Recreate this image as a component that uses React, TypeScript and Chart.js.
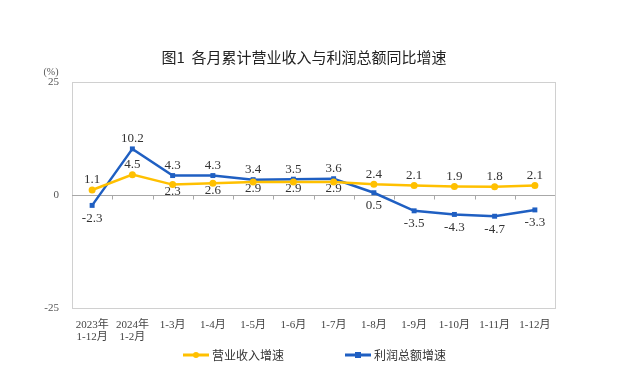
import React, { useEffect, useRef } from "react";
import { Chart, registerables } from "chart.js";

Chart.register(...registerables);

const categories: (string | string[])[] = [
  ["2023年", "1-12月"],
  ["2024年", "1-2月"],
  "1-3月",
  "1-4月",
  "1-5月",
  "1-6月",
  "1-7月",
  "1-8月",
  "1-9月",
  "1-10月",
  "1-11月",
  "1-12月",
];
const revenueGrowth = [1.1, 4.5, 2.3, 2.6, 2.9, 2.9, 2.9, 2.4, 2.1, 1.9, 1.8, 2.1];
const profitGrowth = [-2.3, 10.2, 4.3, 4.3, 3.4, 3.5, 3.6, 0.5, -3.5, -4.3, -4.7, -3.3];
const revenueLabelSide = ["up", "up", "down", "down", "down", "down", "down", "up", "up", "up", "up", "up"];
const profitLabelSide = ["down", "up", "up", "up", "up", "up", "up", "down", "down", "down", "down", "down"];
const yMin = -25;
const yMax = 25;
const yStep = 25;

const titleText = "图1  各月累计营业收入与利润总额同比增速";
const unitText = "(%)";
const seriesNames = ["营业收入增速", "利润总额增速"];

const YELLOW = "#FFC000";
const BLUE = "#1F5FC2";
const SERIF = "'Liberation Serif', 'DejaVu Serif', 'Noto Sans CJK SC', serif";
const CJK = "'Noto Sans CJK SC', 'Noto Sans', sans-serif";

const decorPlugin = {
  id: "decor",
  beforeDatasetsDraw(chart: any) {
    const { ctx, chartArea, scales } = chart;
    const { left, right, top, bottom } = chartArea;
    ctx.save();
    ctx.strokeStyle = "#D0D0D0";
    ctx.lineWidth = 1;
    ctx.strokeRect(Math.round(left) + 0.5, Math.round(top) + 0.5, Math.round(right - left), Math.round(bottom - top));
    const y0 = Math.round(scales.y.getPixelForValue(0)) + 0.5;
    ctx.strokeStyle = "#A8A8A8";
    ctx.beginPath();
    ctx.moveTo(left, y0);
    ctx.lineTo(right, y0);
    ctx.stroke();
    const n = categories.length;
    for (let i = 1; i < n; i++) {
      const x = Math.round((scales.x.getPixelForValue(i - 1) + scales.x.getPixelForValue(i)) / 2) + 0.5;
      ctx.beginPath();
      ctx.moveTo(x, y0);
      ctx.lineTo(x, y0 + 4);
      ctx.stroke();
    }
    ctx.restore();
  },
  afterDatasetsDraw(chart: any) {
    const { ctx } = chart;
    ctx.save();
    ctx.font = `13px ${SERIF}`;
    ctx.fillStyle = "#333333";
    ctx.textAlign = "center";
    ctx.textBaseline = "middle";
    const sides = [revenueLabelSide, profitLabelSide];
    chart.data.datasets.forEach((ds: any, di: number) => {
      const meta = chart.getDatasetMeta(di);
      meta.data.forEach((pt: any, i: number) => {
        const side = sides[di][i];
        let dy = side === "up" ? -10 : di === 0 ? 7 : 13;
        ctx.fillText(String(ds.data[i].toFixed(1)), pt.x, pt.y + dy);
      });
    });
    ctx.restore();
  },
  afterDraw(chart: any) {
    const { ctx, chartArea } = chart;
    ctx.save();
    // title
    ctx.fillStyle = "#222222";
    ctx.font = `400 15px ${CJK}`;
    ctx.textAlign = "center";
    ctx.textBaseline = "middle";
    ctx.fillText(titleText, 304, 57);
    // unit
    ctx.font = `10px ${SERIF}`;
    ctx.fillStyle = "#555555";
    ctx.fillText(unitText, chartArea.left - 21, chartArea.top - 10);
    // legend
    const ly = 355;
    const items = [
      { name: seriesNames[0], color: YELLOW, x: 183, marker: "circle" },
      { name: seriesNames[1], color: BLUE, x: 345, marker: "rect" },
    ];
    items.forEach((it) => {
      ctx.strokeStyle = it.color;
      ctx.fillStyle = it.color;
      ctx.lineWidth = 3;
      ctx.beginPath();
      ctx.moveTo(it.x, ly);
      ctx.lineTo(it.x + 26, ly);
      ctx.stroke();
      const cx = it.x + 13;
      if (it.marker === "circle") {
        ctx.beginPath();
        ctx.arc(cx, ly, 3, 0, Math.PI * 2);
        ctx.fill();
      } else {
        ctx.fillRect(cx - 3, ly - 3, 6, 6);
      }
      ctx.fillStyle = "#333333";
      ctx.font = `12px ${CJK}`;
      ctx.textAlign = "left";
      ctx.fillText(it.name, it.x + 29, ly);
    });
    ctx.restore();
  },
};

export default function App() {
  const ref = useRef<HTMLCanvasElement | null>(null);
  useEffect(() => {
    document.body.style.margin = "0";
    const canvas = ref.current;
    if (!canvas) return;
    const chart = new Chart(canvas, {
      type: "line",
      data: {
        labels: categories as any,
        datasets: [
          {
            label: seriesNames[0],
            data: revenueGrowth,
            borderColor: YELLOW,
            backgroundColor: YELLOW,
            borderWidth: 2.5,
            pointStyle: "circle",
            pointRadius: 3.5,
            pointBorderWidth: 0,
            tension: 0,
          },
          {
            label: seriesNames[1],
            data: profitGrowth,
            borderColor: BLUE,
            backgroundColor: BLUE,
            borderWidth: 2.5,
            pointStyle: "rect",
            pointRadius: 3.5,
            pointBorderWidth: 0,
            tension: 0,
          },
        ],
      },
      options: {
        animation: false,
        responsive: false,
        devicePixelRatio: 1,
        layout: { padding: { top: 82, left: 0, right: 85, bottom: 39 } },
        plugins: {
          legend: { display: false },
          title: { display: false },
          tooltip: { enabled: false },
        },
        scales: {
          x: {
            offset: true,
            grid: { display: false, drawTicks: false },
            border: { display: false },
            ticks: {
              autoSkip: false,
              maxRotation: 0,
              padding: 11,
              color: "#444444",
              font: { family: SERIF, size: 11, lineHeight: 1.1 },
            },
            afterFit: (s: any) => {
              s.height = 40;
            },
          },
          y: {
            min: yMin,
            max: yMax,
            grid: { display: false, drawTicks: false },
            border: { display: false },
            ticks: {
              stepSize: yStep,
              padding: 13,
              color: "#555555",
              font: { family: SERIF, size: 11 },
            },
            afterFit: (s: any) => {
              s.width = 72;
            },
          },
        },
      },
      plugins: [decorPlugin],
    });
    return () => chart.destroy();
  }, []);
  return (
    <div style={{ width: 640, height: 387, background: "#fff" }}>
      <canvas ref={ref} width={640} height={387} />
    </div>
  );
}
